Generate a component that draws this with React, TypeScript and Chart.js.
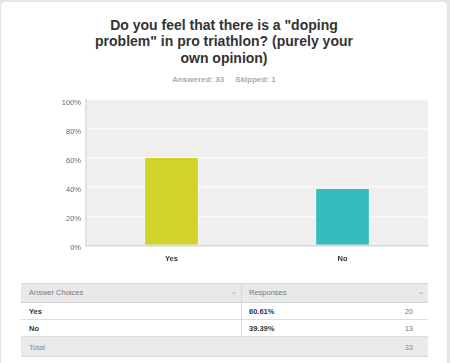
import React, { useEffect, useRef } from "react";
import { Chart, registerables } from "chart.js";

Chart.register(...registerables);

const categories = ["Yes", "No"];
const percents = [60.61, 39.39];
const counts = [20, 13];
const percentLabels = ["60.61%", "39.39%"];
const total = 33;
const barColors = ["#d0d42a", "#34bdbf"];
const yTicks = [0, 20, 40, 60, 80, 100];

const FONT = '"Liberation Sans", Arial, sans-serif';

const bgPlugin = {
  id: "plotBg",
  beforeDraw(chart: any) {
    const { ctx, chartArea } = chart;
    ctx.save();
    ctx.fillStyle = "#efefef";
    ctx.fillRect(chartArea.left, chartArea.top, chartArea.right - chartArea.left, chartArea.bottom - chartArea.top);
    ctx.restore();
  },
};

export default function App() {
  const ref = useRef<HTMLCanvasElement>(null);

  useEffect(() => {
    document.body.style.margin = "0";
    const chart = new Chart(ref.current as HTMLCanvasElement, {
      type: "bar",
      data: {
        labels: categories,
        datasets: [
          {
            data: percents,
            backgroundColor: barColors,
            borderColor: "rgba(255,255,255,0.35)",
            borderWidth: 1,
            barPercentage: 0.32,
            categoryPercentage: 1,
          },
        ],
      },
      options: {
        responsive: false,
        animation: false,
        layout: { padding: { left: 0, right: 22, top: 9.6, bottom: 0 } },
        plugins: { legend: { display: false }, tooltip: { enabled: false } },
        scales: {
          x: {
            grid: { display: false, drawTicks: false },
            border: { display: true, color: "#d8d8d8", width: 1.5 },
            ticks: {
              padding: 9,
              color: "#333",
              font: { family: FONT, size: 7.5, weight: "bold" },
            },
            afterFit(scale: any) {
              scale.height = 24.7;
            },
          },
          y: {
            min: 0,
            max: 100,
            afterBuildTicks(scale: any) {
              scale.ticks = yTicks.map((v) => ({ value: v }));
            },
            grid: {
              drawTicks: false,
              color: (c: any) => (c.tick && c.tick.value === 0 ? "rgba(0,0,0,0)" : "#fbfbfb"),
              lineWidth: 1.2,
            },
            border: { display: true, color: "#e2e2e2", width: 2 },
            ticks: {
              padding: 5,
              labelOffset: 3,
              color: "#666",
              font: { family: FONT, size: 7.5 },
              callback: (v: any) => v + "%",
            },
            afterFit(scale: any) {
              scale.width = 86;
            },
          },
        },
      },
      plugins: [bgPlugin],
    } as any);
    return () => chart.destroy();
  }, []);

  const cellText = (extra: React.CSSProperties): React.CSSProperties => ({
    position: "absolute",
    fontFamily: FONT,
    fontSize: 7.5,
    lineHeight: "10px",
    whiteSpace: "nowrap",
    ...extra,
  });

  const arrow = (left: number, top: number) => (
    <div
      style={{
        position: "absolute",
        left,
        top,
        width: 0,
        height: 0,
        borderLeft: "3px solid transparent",
        borderRight: "3px solid transparent",
        borderTop: "3px solid #d0d0d0",
      }}
    />
  );

  const rowTops = [303, 320];

  return (
    <div
      style={{
        position: "fixed",
        left: 0,
        top: 0,
        width: 450,
        height: 363,
        background: "#e6e6e6",
        overflow: "hidden",
      }}
    >
      <div
        style={{
          position: "absolute",
          left: 1,
          top: 2,
          width: 446,
          height: 400,
          background: "#ffffff",
          borderRadius: 4,
        }}
      />
      <div
        style={{
          position: "absolute",
          left: 0,
          top: 17,
          width: 448,
          textAlign: "center",
          fontFamily: FONT,
          fontWeight: "bold",
          fontSize: 14,
          lineHeight: "16.3px",
          color: "#333",
        }}
      >
        Do you feel that there is a "doping
        <br />
        problem" in pro triathlon? (purely your
        <br />
        own opinion)
      </div>
      <div
        style={{
          position: "absolute",
          left: 0,
          top: 75,
          width: 448,
          textAlign: "center",
          fontFamily: FONT,
          fontWeight: "bold",
          fontSize: 8,
          lineHeight: "10px",
          color: "#aaa",
          whiteSpace: "pre",
        }}
      >
        {"Answered: " + total + "     Skipped: 1"}
      </div>
      <canvas
        ref={ref}
        width={450}
        height={180}
        style={{ position: "absolute", left: 0, top: 90, width: 450, height: 180 }}
      />

      {/* table */}
      <div
        style={{
          position: "absolute",
          left: 21,
          top: 283,
          width: 407,
          height: 20,
          background: "#e9e9e9",
          borderTop: "1px solid #d6d6d6",
          borderBottom: "1px solid #d6d6d6",
          boxSizing: "border-box",
        }}
      />
      <div style={cellText({ left: 29, top: 288, color: "#777" })}>Answer Choices</div>
      <div style={cellText({ left: 249, top: 288, color: "#777" })}>Responses</div>
      {arrow(231, 292)}
      {arrow(418, 292)}
      {categories.map((c, i) => (
        <React.Fragment key={c}>
          <div
            style={{
              position: "absolute",
              left: 21,
              top: rowTops[i],
              width: 407,
              height: 17,
              background: "#fff",
              borderBottom: "1px solid #dedede",
              boxSizing: "border-box",
            }}
          />
          <div style={cellText({ left: 29, top: rowTops[i] + 4, color: "#333", fontWeight: "bold" })}>{c}</div>
          <div style={cellText({ left: 249, top: rowTops[i] + 4, color: "#333", fontWeight: "bold" })}>
            {percentLabels[i]}
          </div>
          <div style={cellText({ left: 380, width: 33, textAlign: "right", top: rowTops[i] + 4, color: "#777" })}>
            {counts[i]}
          </div>
        </React.Fragment>
      ))}
      <div
        style={{
          position: "absolute",
          left: 241,
          top: 283,
          width: 1,
          height: 54,
          background: "#d8d8d8",
        }}
      />
      <div
        style={{
          position: "absolute",
          left: 21,
          top: 337,
          width: 407,
          height: 20,
          background: "#ebebeb",
          borderBottom: "1px solid #d6d6d6",
          boxSizing: "border-box",
        }}
      />
      <div style={cellText({ left: 29, top: 343, color: "#888" })}>Total</div>
      <div style={cellText({ left: 380, width: 33, textAlign: "right", top: 343, color: "#888" })}>{total}</div>
    </div>
  );
}
